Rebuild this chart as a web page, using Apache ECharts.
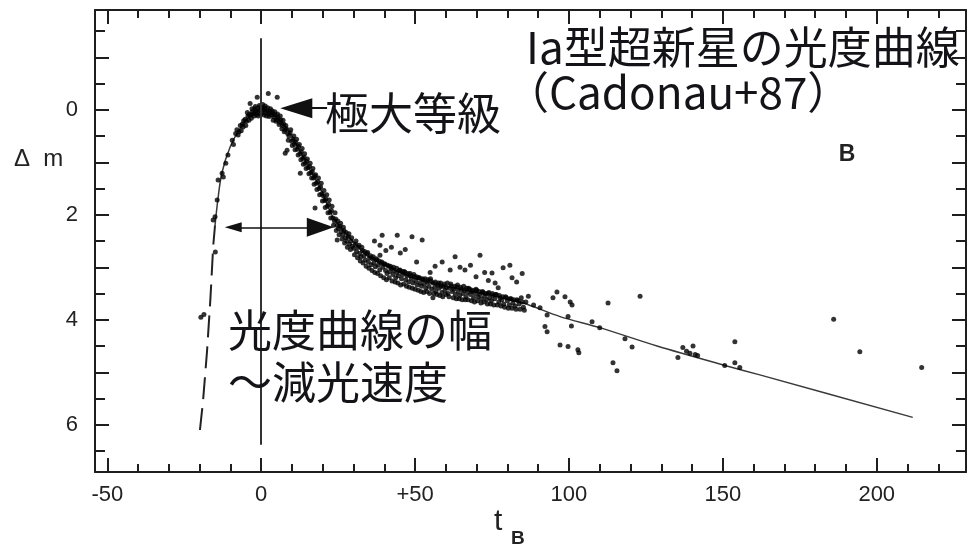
<!DOCTYPE html>
<html>
<head>
<meta charset="utf-8">
<script src="https://cdn.jsdelivr.net/npm/echarts@6/dist/echarts.min.js"></script>
<style>
  html, body { margin: 0; padding: 0; background: #fff; }
  #chart { width: 970px; height: 548px; }
</style>
</head>
<body>
<div id="chart"></div>
<script>
// Type Ia supernova B-band light curve: days from maximum (tB) vs. magnitude below peak (Δm).

// Axis extents and labelled ticks
const xRange = [-54, 229];
const yRange = [-1.9, 6.9];
const xTickLabels = { '-50': '-50', '0': '0', '50': '+50', '100': '100', '150': '150', '200': '200' };
const yTickLabels = ['0', '2', '4', '6'];

// Template curve: dashed early rise, then the solid curve through maximum and the tail
const templateRise = [
  [-19.9, 6.1], [-18.9, 5.55], [-17.6, 4.6], [-16.5, 3.6], [-15.6, 2.6], [-15.0, 2.2]
];
const templateMain = [
  [-15.0, 2.2], [-14.1, 1.72], [-12.8, 1.21], [-10.1, 0.71], [-6.8, 0.35], [-3.6, 0.12],
  [0, 0], [2.9, 0.05], [6.2, 0.2], [9.4, 0.45], [12.7, 0.8], [15.9, 1.15], [19.2, 1.5],
  [23.4, 2.05], [28.9, 2.45], [34.4, 2.78], [40.9, 2.98], [47.4, 3.16], [54.9, 3.3],
  [65.6, 3.43], [76.6, 3.56], [85.1, 3.68], [97.1, 3.94], [110, 4.15], [128.6, 4.5],
  [151.3, 4.88], [162, 5.05], [211.7, 5.86]
];

// Observations
const risePts = [
  [-19.6, 3.95], [-18.6, 3.9], [-15.6, 2.1], [-14.9, 2.71], [-15.0, 2.04], [-14.3, 1.72],
  [-14.0, 1.34], [-12.7, 1.21], [-12.3, 1.28], [-11.5, 1.02], [-10.8, 0.86], [-9.4, 0.58],
  [-9.0, 0.66], [-8.3, 0.45], [-7.9, 0.38], [-7.2, 0.42], [-6.8, 0.3], [-6.1, 0.27],
  [-5.7, 0.21], [-5.2, 0.18], [-4.8, 0.22], [-4.3, 0.12], [-3.9, 0.09], [-3.6, -0.12],
  [-3.4, 0.1], [-2.9, 0.04], [-2.5, 0.07], [-2.1, -0.02], [-1.7, 0.02], [-1.3, -0.24],
  [-1.2, 0.05], [-0.8, -0.04], [-0.4, 0.01],
  [-7.5, 0.48], [-6.5, 0.4], [-5.9, 0.33], [-5.0, 0.3], [-4.5, 0.05], [-4.0, 0.2],
  [-3.2, 0.16], [-3.0, -0.02], [-2.3, 0.12], [-1.9, -0.06], [-1.5, 0.09], [-1.0, 0.12],
  [-0.6, -0.08], [-0.2, 0.08]
];
const peakPts = [
  [0.1, -0.05], [0.3, 0.06], [0.7, 0.0], [1.1, -0.03], [1.5, 0.05], [1.9, 0.02],
  [2.3, -0.31], [2.4, 0.08], [2.8, 0.04], [3.3, 0.1], [3.7, 0.06], [4.1, 0.14], [4.6, 0.1],
  [5.2, -0.24], [5.0, 0.19], [5.5, 0.15], [6.0, 0.24], [6.4, 0.2], [6.9, 0.3], [7.3, 0.27],
  [7.8, 0.83], [7.7, 0.38], [8.2, 0.36], [8.4, 0.77], [8.6, 0.45],
  [0.5, -0.1], [0.9, 0.1], [1.3, -0.07], [1.7, 0.12], [2.1, -0.04], [2.6, 0.13], [3.0, -0.02],
  [3.5, 0.02], [3.9, 0.2], [4.4, 0.04], [4.8, 0.22], [5.3, 0.08], [5.8, 0.28], [6.2, 0.12],
  [6.7, 0.36], [7.1, 0.2], [7.5, 0.42], [8.0, 0.3]
];
const declinePts = [
  [9.0, 0.5], [9.4, 0.44], [9.9, 0.6], [10.3, 0.56], [10.8, 0.66], [11.2, 0.62], [11.7, 0.75],
  [12.1, 0.7], [12.6, 0.84], [12.7, 1.21], [13.0, 0.8], [13.5, 0.93], [13.9, 0.9], [14.3, 1.02],
  [14.8, 0.98], [15.2, 1.1], [15.7, 1.08], [16.1, 1.2], [16.6, 1.18], [17.0, 1.3], [17.5, 1.87],
  [17.4, 1.26], [17.9, 1.4], [18.4, 1.37], [18.8, 1.5], [19.3, 1.47], [19.7, 1.6], [20.2, 1.64],
  [20.6, 1.73], [21.0, 1.7], [21.5, 1.84], [21.9, 1.8], [22.4, 1.95], [22.8, 1.92], [23.3, 2.06],
  [23.8, 2.12], [24.2, 2.08], [24.7, 2.48], [24.6, 2.2], [25.1, 2.26], [25.6, 2.22], [26.0, 2.32],
  [26.5, 2.38], [26.9, 2.3], [27.4, 2.44], [27.8, 2.5], [28.3, 2.42], [28.7, 2.56], [29.2, 2.5],
  [29.6, 2.6],
  [8.8, 0.58], [9.6, 0.38], [10.1, 0.68], [10.6, 0.5], [11.0, 0.76], [11.5, 0.56], [12.0, 0.86],
  [12.4, 0.66], [12.9, 0.95], [13.3, 0.74], [13.7, 1.04], [14.1, 0.84], [14.6, 1.12], [15.0, 0.94],
  [15.5, 1.22], [15.9, 1.02], [16.4, 1.3], [16.8, 1.12], [17.2, 1.42], [17.7, 1.24], [18.1, 1.52],
  [18.6, 1.3], [19.0, 1.62], [19.5, 1.4], [19.9, 1.74], [20.4, 1.54], [20.8, 1.86], [21.3, 1.62],
  [21.7, 1.96], [22.1, 1.72], [22.6, 2.06], [23.0, 1.84], [23.5, 2.2], [24.0, 1.96], [24.4, 2.3],
  [24.9, 2.12], [25.3, 2.38], [25.8, 2.16], [26.3, 2.46], [26.7, 2.24], [27.1, 2.54], [27.6, 2.34],
  [28.0, 2.62], [28.5, 2.36], [29.0, 2.66], [29.4, 2.44]
];
const plateauPts = [
  [30.1, 2.64], [30.6, 2.56], [31.0, 2.7], [31.5, 2.62], [32.0, 2.74], [32.4, 2.8], [32.9, 2.68],
  [33.4, 2.78], [33.8, 2.86], [34.3, 2.74], [34.8, 2.9], [35.2, 2.82], [35.7, 2.95], [36.2, 2.84],
  [36.6, 2.92], [37.1, 2.99], [37.6, 2.86], [38.0, 2.96], [38.6, 2.58], [38.5, 3.05], [39.3, 2.39],
  [39.0, 2.92], [39.5, 3.0], [40.0, 2.94], [40.4, 3.06], [40.9, 3.12], [41.4, 2.98], [41.8, 3.08],
  [42.3, 3.02], [42.8, 3.14], [43.2, 3.06], [43.7, 3.2], [44.2, 2.39], [44.1, 3.1], [44.6, 3.16],
  [45.1, 3.05], [45.6, 3.22], [46.0, 3.14], [46.5, 3.08], [47.0, 3.24], [47.4, 3.16], [47.9, 3.28],
  [48.4, 3.12], [49.0, 2.42], [48.8, 3.22], [49.3, 3.3], [49.8, 3.18], [50.2, 3.26], [50.7, 3.34],
  [51.2, 3.2], [51.6, 3.3], [52.3, 2.48], [52.1, 3.36], [52.6, 3.24], [53.0, 3.32], [53.5, 3.4],
  [54.0, 3.28], [54.5, 3.36], [54.9, 3.1], [55.0, 3.22], [55.4, 3.42], [55.8, 3.58], [55.9, 3.3],
  [56.4, 3.38], [56.8, 3.46], [57.3, 3.34], [57.8, 3.4], [58.3, 3.3], [58.7, 3.48], [59.2, 3.36],
  [59.7, 3.44], [60.2, 3.38], [60.7, 3.5], [61.1, 3.4], [61.4, 3.05], [61.6, 3.32], [62.1, 3.46],
  [62.6, 3.42], [63.0, 2.8], [63.1, 3.52], [63.6, 3.38], [64.0, 3.46], [64.5, 3.54], [65.0, 3.42],
  [66.2, 3.05], [65.5, 3.5], [66.0, 3.44], [66.5, 3.56], [67.0, 3.48], [67.4, 3.4], [68.0, 3.52],
  [68.5, 3.46], [69.0, 3.58], [69.5, 3.5], [70.0, 3.44], [71.1, 2.77], [70.5, 3.56], [71.0, 3.52],
  [71.6, 3.6], [72.1, 3.48], [72.6, 3.55], [73.2, 3.62], [73.7, 3.5], [74.2, 3.58], [75.0, 3.11],
  [74.8, 3.64], [75.3, 3.54], [75.9, 3.6], [76.4, 3.52], [77.0, 3.39], [77.2, 3.66], [77.6, 3.58],
  [78.6, 3.01], [78.2, 3.62], [78.8, 3.7], [79.4, 3.56], [80.0, 3.64], [80.8, 2.96], [80.6, 3.72],
  [81.5, 3.2], [81.2, 3.6], [81.8, 3.68], [82.5, 3.74], [83.1, 3.62], [83.8, 3.7], [84.5, 3.58],
  [85.2, 3.76], [86.0, 3.66], [86.8, 3.55],
  [30.3, 2.76], [30.8, 2.5], [31.3, 2.82], [31.8, 2.58], [32.2, 2.88], [32.7, 2.62], [33.1, 2.92],
  [33.6, 2.7], [34.1, 2.98], [34.6, 2.72], [35.0, 3.02], [35.5, 2.78], [36.0, 3.06], [36.4, 2.8],
  [36.9, 3.1], [37.4, 2.84], [37.8, 3.12], [38.3, 2.88], [38.8, 3.16], [39.2, 2.9], [39.8, 3.2],
  [40.2, 2.94], [40.7, 3.24], [41.1, 2.96], [41.6, 3.2], [42.0, 2.98], [42.5, 3.26], [43.0, 3.0],
  [43.5, 3.28], [44.0, 3.02], [44.4, 3.3], [44.9, 3.06], [45.3, 3.34], [45.8, 3.08], [46.3, 3.32],
  [46.8, 3.1], [47.2, 3.36], [47.7, 3.12], [48.1, 3.38], [48.6, 3.16], [49.1, 3.4], [49.6, 3.14],
  [50.0, 3.42], [50.5, 3.18], [51.0, 3.44], [51.4, 3.2], [51.9, 3.46], [52.4, 3.22], [52.8, 3.48],
  [53.3, 3.22], [53.8, 3.46], [54.2, 3.24], [54.7, 3.5], [55.2, 3.26], [56.1, 3.5], [56.6, 3.28],
  [57.1, 3.52], [57.6, 3.3], [58.0, 3.54], [58.5, 3.36], [59.0, 3.56], [59.5, 3.32], [60.0, 3.52],
  [60.5, 3.3], [61.0, 3.56], [61.8, 3.36], [62.4, 3.58], [62.9, 3.36], [63.4, 3.6], [63.8, 3.34],
  [64.3, 3.6], [64.8, 3.38], [65.3, 3.62], [65.8, 3.36], [66.3, 3.62], [66.8, 3.4], [67.2, 3.62],
  [67.8, 3.42], [68.3, 3.64], [68.8, 3.44], [69.3, 3.66], [69.8, 3.42], [70.3, 3.64], [70.8, 3.46],
  [71.4, 3.68], [71.9, 3.46], [72.4, 3.66], [72.9, 3.5], [73.5, 3.7], [74.0, 3.48], [74.5, 3.7],
  [75.1, 3.5], [75.6, 3.72], [76.1, 3.52], [76.7, 3.72], [77.4, 3.54], [77.9, 3.74], [78.5, 3.56],
  [79.1, 3.76], [79.7, 3.58], [80.3, 3.78], [80.9, 3.6], [81.5, 3.78], [82.1, 3.62], [82.8, 3.8],
  [83.5, 3.64], [84.1, 3.8], [84.8, 3.66], [85.5, 3.82]
];
// Scattered measurements lying above the main band after ~35 days
const outlierPts = [
  [36.8, 2.5], [38.6, 2.77], [40.5, 2.68], [42.3, 2.62], [45.2, 2.73], [46.8, 2.66], [50.5, 2.9],
  [56.5, 2.98], [58.8, 2.9], [64.6, 3.0], [68.0, 2.96], [69.8, 3.18], [72.6, 3.1], [73.8, 3.25],
  [76.0, 3.3], [83.0, 3.28], [84.8, 3.12]
];
const tailPts = [
  [88.5, 3.72], [90.6, 3.77], [92.9, 3.91], [92.2, 4.13], [92.9, 4.23], [94.8, 3.58], [96.1, 3.47],
  [97.1, 4.48], [98.7, 3.56], [99.7, 3.94], [99.7, 4.51], [100.4, 3.66], [100.8, 4.12],
  [101.0, 3.72], [102.9, 4.57], [103.2, 4.63], [107.5, 4.04], [110.0, 4.15], [112.7, 3.68],
  [114.3, 4.82], [115.6, 4.97], [118.2, 4.36], [120.5, 4.52], [123.1, 3.55], [135.4, 4.72],
  [137.0, 4.53], [138.2, 4.6], [139.3, 4.64], [140.3, 4.5], [141.0, 4.66], [141.8, 4.68],
  [150.6, 4.87], [153.9, 4.42], [153.9, 4.82], [155.5, 4.91], [186.0, 3.99], [194.5, 4.61],
  [214.6, 4.91]
];

// Annotation anchors in data units (arrowheads are centred on their end coordinates)
const maxArrow = { from: [21.4, -0.03], to: [11.4, -0.03] };
const widthArrow = { from: [-9.1, 2.24], to: [19.2, 2.24] };
const maxLine = { t: 0, top: -1.36, bottom: 6.38 };

const observed = [].concat(risePts, peakPts, declinePts, plateauPts, outlierPts, tailPts);

const chart = echarts.init(document.getElementById('chart'));

const frameColor = '#1e1e1e';
const labelFont = 'Liberation Sans';
const jpFont = 'Noto Sans CJK JP';

function xAxisSpec(pos, withLabels) {
  return {
    type: 'value', position: pos, min: xRange[0], max: xRange[1],
    minInterval: 50, maxInterval: 50,
    axisLine: { show: true, onZero: false, lineStyle: { color: frameColor, width: 2 } },
    axisTick: { show: true, inside: true, length: 14, lineStyle: { color: frameColor, width: 2 } },
    minorTick: { show: true, splitNumber: 5, length: 8, lineStyle: { color: frameColor, width: 2 } },
    splitLine: { show: false }, minorSplitLine: { show: false },
    axisLabel: {
      show: withLabels, margin: 12, color: '#222', fontFamily: labelFont, fontSize: 22,
      showMinLabel: true, showMaxLabel: true,
      formatter: v => xTickLabels[String(v)] !== undefined ? xTickLabels[String(v)] : ''
    }
  };
}
function yAxisSpec(pos, withLabels) {
  return {
    type: 'value', position: pos, inverse: true, min: yRange[0], max: yRange[1],
    minInterval: 1, maxInterval: 1,
    axisLine: { show: true, onZero: false, lineStyle: { color: frameColor, width: 2 } },
    axisTick: { show: true, inside: true, length: 14, lineStyle: { color: frameColor, width: 2 } },
    minorTick: { show: true, splitNumber: 2, length: 10, lineStyle: { color: frameColor, width: 2 } },
    splitLine: { show: false }, minorSplitLine: { show: false },
    axisLabel: {
      show: withLabels, margin: 17, color: '#222', fontFamily: labelFont, fontSize: 22,
      formatter: v => yTickLabels.indexOf(String(v)) >= 0 ? String(v) : ''
    }
  };
}

const option = {
  backgroundColor: '#ffffff',
  animation: false,
  grid: { left: 95, top: 10, width: 871, height: 462, show: false },
  xAxis: [xAxisSpec('bottom', true), xAxisSpec('top', false)],
  yAxis: [yAxisSpec('left', true), yAxisSpec('right', false)],
  series: [
    {
      name: 'template rise', type: 'line', data: templateRise, showSymbol: false, symbol: 'none',
      lineStyle: { color: '#222', width: 2, type: [22, 9] }, z: 2
    },
    {
      name: 'template', type: 'line', data: templateMain, showSymbol: false, symbol: 'none', smooth: 0.3,
      lineStyle: { color: '#3a3a3a', width: 1.5 }, z: 2
    },
    {
      name: 'observed', type: 'scatter', data: observed, symbol: 'circle', symbolSize: 5,
      itemStyle: { color: '#000' }, z: 3,
      markLine: {
        silent: true, animation: false, label: { show: false },
        data: [
          [
            { coord: [maxLine.t, maxLine.top], symbol: 'none', lineStyle: { color: '#333', width: 2, type: 'solid' } },
            { coord: [maxLine.t, maxLine.bottom], symbol: 'none' }
          ],
          [
            { coord: maxArrow.from, symbol: 'none', lineStyle: { color: '#111', width: 2, type: 'solid' } },
            { coord: maxArrow.to, symbol: 'triangle', symbolSize: [20, 32] }
          ],
          [
            { coord: widthArrow.from, symbol: 'triangle', symbolSize: [10, 17], lineStyle: { color: '#111', width: 1.5, type: 'solid' } },
            { coord: widthArrow.to, symbol: 'triangle', symbolSize: [19, 27] }
          ]
        ]
      }
    }
  ],
  graphic: [
    { type: 'text', x: 526, y: 47, z: 10, style: { text: 'Ia型超新星の光度曲線', font: '44px "' + jpFont + '"', fill: '#141418', verticalAlign: 'middle' } },
    { type: 'text', x: 505, y: 92, z: 10, style: { text: '（Cadonau+87）', font: '44px "' + jpFont + '"', fill: '#141418', verticalAlign: 'middle' } },
    { type: 'text', x: 325, y: 113, z: 10, style: { text: '極大等級', font: '44px "' + jpFont + '"', fill: '#141418', verticalAlign: 'middle' } },
    { type: 'text', x: 228, y: 330, z: 10, style: { text: '光度曲線の幅', font: '44px "' + jpFont + '"', fill: '#141418', verticalAlign: 'middle' } },
    { type: 'text', x: 228, y: 382, z: 10, style: { text: '〜減光速度', font: '44px "' + jpFont + '"', fill: '#141418', verticalAlign: 'middle' } },
    { type: 'text', x: 847, y: 155, z: 10, style: { text: 'B', font: 'bold 23px "' + labelFont + '"', fill: '#222', align: 'center', verticalAlign: 'middle' } },
    { type: 'text', x: 14, y: 159, z: 10, style: { text: 'Δ  m', font: '24px "' + labelFont + '"', fill: '#222', verticalAlign: 'middle' } },
    { type: 'text', x: 494, y: 522, z: 10, style: { text: 't', font: '30px "' + labelFont + '"', fill: '#222', verticalAlign: 'middle' } },
    { type: 'text', x: 511, y: 539, z: 10, style: { text: 'B', font: 'bold 19px "' + labelFont + '"', fill: '#222', verticalAlign: 'middle' } }
  ]
};

chart.setOption(option);
</script>
</body>
</html>
